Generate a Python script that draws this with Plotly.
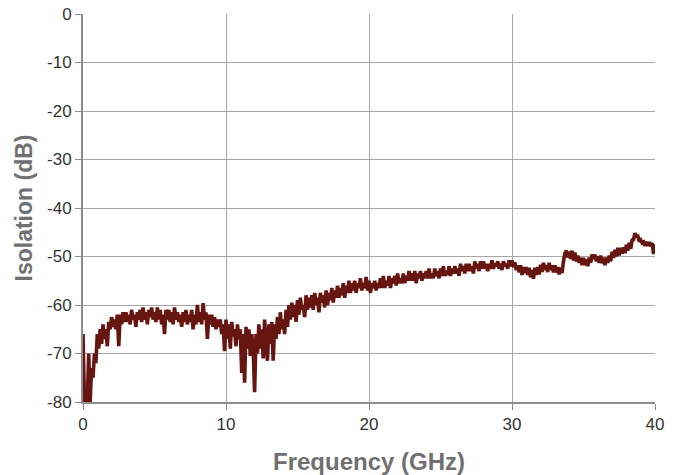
import numpy as np
import plotly.graph_objects as go

# Isolation sweep, 0-40 GHz in 0.1 GHz steps (one row per GHz)
isolation_db = [
    -66, -80, -77, -80, -70, -80, -73, -75, -70, -72,
    -66, -69, -65, -68, -64, -67, -65, -68.5, -63.5, -65,
    -62.5, -64.5, -63, -65, -62, -68.5, -62, -64, -61.5, -63.5,
    -61.5, -63.5, -62, -64, -61, -63, -62, -64.5, -61.5, -63,
    -61, -63.5, -60.5, -63, -61.5, -64, -61, -62.5, -60.5, -63,
    -61.5, -63.5, -60.5, -63, -61, -64, -62, -66, -61, -63,
    -61, -63.5, -61.5, -64, -60.5, -63, -61.5, -63.5, -62, -64.5,
    -61.5, -63.5, -61, -64, -62, -63.5, -61, -65, -62, -64,
    -60, -63.5, -61.5, -64, -59.6, -63, -61.5, -67, -62, -64,
    -62, -64.5, -62.5, -65, -63, -64.5, -63, -66, -64, -69.5,
    -63, -67, -64, -69, -63.5, -66.5, -65, -68.5, -64, -67,
    -65, -74, -66, -76, -64.5, -69, -65, -70.5, -66, -69,
    -78, -66, -70, -64, -69, -65, -71, -63, -68, -71.5,
    -64, -68, -63.5, -71.5, -64, -67, -62.5, -66, -61.5, -65,
    -63, -66, -61, -64.5, -60, -63, -59.5, -62.5, -60, -63.5,
    -59, -62, -58.5, -61, -60, -62.5, -58, -61, -58.5, -60.5,
    -58, -61, -57.5, -60, -58.5, -61.5, -57.5, -59.5, -58, -60.5,
    -57, -60, -57.5, -59, -56.5, -59.5, -57, -58.5, -56, -58.5,
    -56.5, -58, -55.5, -58.5, -56, -57.5, -55, -57.5, -55.5, -57,
    -55, -57.5, -55.5, -56.5, -54.5, -57, -55.5, -56.5, -54.2, -57,
    -55, -57.5, -55.5, -56.5, -55, -57, -55.5, -56.5, -54.5, -56.5,
    -54, -56.5, -55, -56, -54, -56.5, -54.5, -55.5, -54, -56,
    -53.5, -55.5, -54.5, -55.5, -53.5, -55.5, -54, -55, -53, -55,
    -53.5, -55, -53, -55.5, -53.5, -54.5, -53, -55, -53.5, -54.5,
    -53, -54.5, -52.5, -54.5, -53.5, -54.5, -52.5, -54, -53, -54.5,
    -52.5, -54, -52, -54, -53, -53.8, -52, -54, -52.5, -53.5,
    -52, -53.5, -52.5, -54, -51.5, -53, -52, -53.5, -51.5, -53,
    -51.5, -53, -52, -53.5, -51, -52.5, -51.5, -53, -51, -52.5,
    -51, -52.5, -51.5, -53, -51.5, -52.5, -50.8, -52.5, -51.5, -52,
    -51, -52.5, -51.5, -52.8, -51, -52, -51.5, -52.5, -50.8, -52,
    -50.8, -52.2, -51.2, -52.8, -51.8, -53.3, -51.8, -53.8, -52.2, -53.4,
    -52.2, -53.8, -52.3, -54.3, -52.8, -54.6, -52.3, -53.8, -52.2, -53.7,
    -51.7, -53.2, -51.3, -52.8, -51.8, -53.2, -51.3, -52.8, -51.8, -53.3,
    -51.8, -53.3, -52.2, -53.7, -52.3, -53.4, -51, -49.3, -48.8, -50.2,
    -49, -50.5, -48.8, -50.8, -49.2, -51, -49.8, -51.3, -50.2, -51.8,
    -50.3, -51.8, -50.6, -52, -50.2, -51.3, -49.6, -50.5, -49.6, -51,
    -50, -51.3, -49.8, -51.4, -50.2, -51.8, -50.2, -51.3, -49.8, -51,
    -49, -50.3, -48.6, -50, -48.2, -49.8, -48.2, -49.4, -48.1, -49.3,
    -47.6, -48.8, -47.2, -48.4, -46.6, -46.5, -45.2, -45.8, -45.8, -46.9,
    -46.6, -47.2, -47, -47.8, -47, -47.8, -47, -47.9, -47.2, -49.5,
    -47.5,
]
frequency_ghz = np.round(np.arange(len(isolation_db)) * 0.1, 1)

x_ticks = [0, 10, 20, 30, 40]
y_ticks = [0, -10, -20, -30, -40, -50, -60, -70, -80]

FONT = "Liberation Sans, Arial, sans-serif"

fig = go.Figure(
    go.Scatter(
        x=frequency_ghz,
        y=isolation_db,
        mode="lines",
        line=dict(color="#661510", width=3.6),
        hoverinfo="x+y",
    )
)

axis_common = dict(
    automargin=False,
    showgrid=True,
    gridcolor="#a6a6a6",
    gridwidth=1,
    zeroline=False,
    showline=True,
    linecolor="#8c8c8c",
    linewidth=2,
    ticks="outside",
    ticklen=6,
    tickwidth=1,
    tickcolor="#8c8c8c",
    tickfont=dict(family=FONT, size=17, color="#333333"),
)

fig.update_xaxes(
    range=[0, 40],
    tickvals=x_ticks,
    ticktext=[str(v) for v in x_ticks],
    title=dict(
        text="<b>Frequency (GHz)</b>",
        font=dict(family=FONT, size=24, color="#707070"),
        standoff=20,
    ),
    **axis_common,
)
fig.update_yaxes(
    range=[-80, 0],
    tickvals=y_ticks,
    ticktext=[str(v) for v in y_ticks],
    title=dict(
        text="<b>Isolation (dB)</b>",
        font=dict(family=FONT, size=23, color="#707070"),
        standoff=8,
    ),
    **axis_common,
)

fig.update_layout(
    width=678,
    height=475,
    margin=dict(l=83, r=23, t=14, b=73),
    paper_bgcolor="white",
    plot_bgcolor="white",
    showlegend=False,
)

fig.write_html("out.html")
